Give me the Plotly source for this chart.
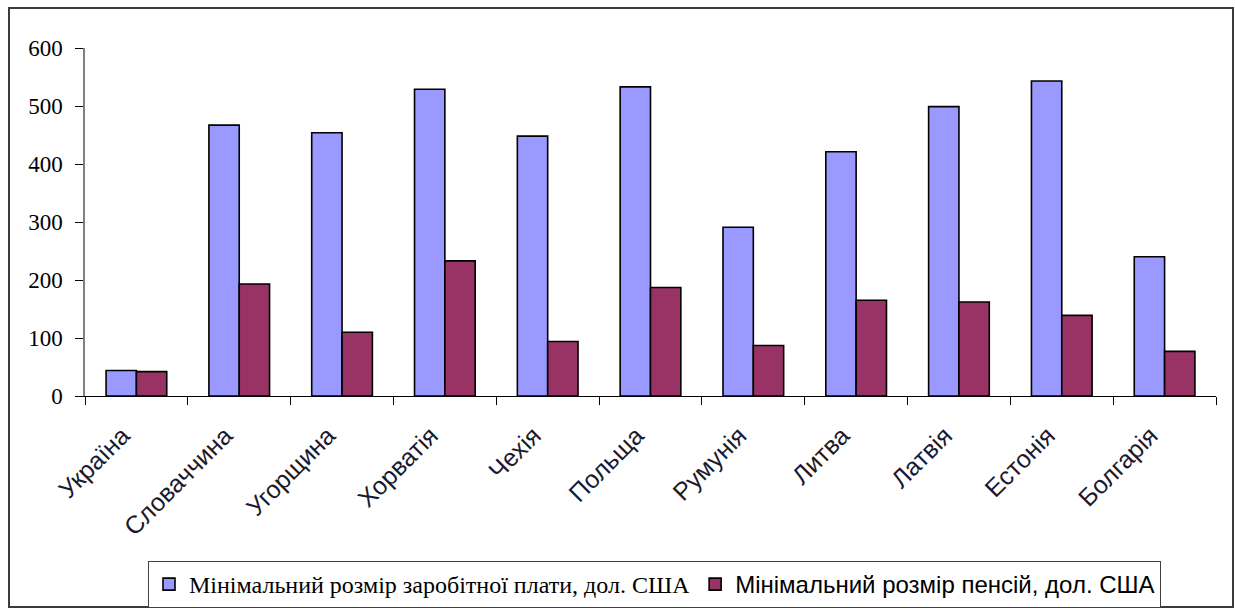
import plotly.graph_objects as go

# Minimum wage and minimum pension by country, USD
countries = ["Україна", "Словаччина", "Угорщина", "Хорватія", "Чехія", "Польща",
             "Румунія", "Литва", "Латвія", "Естонія", "Болгарія"]
min_wage = [44, 467, 454, 529, 448, 533, 291, 421, 499, 543, 240]
min_pension = [42, 193, 110, 233, 94, 187, 87, 165, 162, 139, 77]
y_ticks = [0, 100, 200, 300, 400, 500, 600]

wage_name = "Мінімальний розмір заробітної плати, дол. США"
pension_name = "Мінімальний розмір пенсій, дол. США"

W, H = 1235, 610
ML, MR, MT, MB = 85, 19, 48, 214
PW, PH = W - ML - MR, H - MT - MB


def px_x(px):
    return (px - ML) / PW


def px_y(py):
    return (H - MB - py) / PH


SERIF = "Times New Roman, Liberation Serif, serif"
SANS = "Arial, Liberation Sans, sans-serif"

fig = go.Figure()
fig.add_trace(go.Bar(
    x=countries, y=min_wage, name=wage_name,
    marker=dict(color="#9999FF", line=dict(color="#000000", width=1.6)),
))
fig.add_trace(go.Bar(
    x=countries, y=min_pension,
    name='<span style="font-family:Arial,Liberation Sans">' + pension_name + "</span>",
    marker=dict(color="#993366", line=dict(color="#000000", width=1.6)),
))

# outer chart frame
fig.add_shape(type="rect", xref="paper", yref="paper",
              x0=px_x(9), x1=px_x(1233), y0=px_y(607), y1=px_y(8),
              line=dict(color="#3c3c3c", width=2), fillcolor="rgba(0,0,0,0)",
              layer="below")

fig.update_layout(
    width=W, height=H,
    margin=dict(l=ML, r=MR, t=MT, b=MB, pad=0, autoexpand=False),
    paper_bgcolor="white", plot_bgcolor="white",
    barmode="group", bargap=0.41, bargroupgap=0,
    showlegend=True,
    legend=dict(
        orientation="h", xref="container", yref="container",
        x=148 / W, y=1 - 561 / H,
        xanchor="left", yanchor="top",
        bordercolor="#404040", borderwidth=1, bgcolor="white",
        font=dict(family=SERIF, size=24, color="#000000"),
        itemwidth=30, traceorder="normal",
    ),
    xaxis=dict(
        type="category", showline=True, linecolor="#000000", linewidth=1,
        ticks="outside", tickson="boundaries", ticklen=8, tickcolor="#000000",
        tickangle=-45, tickfont=dict(family=SANS, size=25, color="#1a1a2e"),
        ticklabelstandoff=14, ticklabelshift=-14,
        showgrid=False, zeroline=False, automargin=False,
    ),
    yaxis=dict(
        range=[0, 600], tickmode="array", tickvals=y_ticks,
        ticktext=[str(v) for v in y_ticks],
        showline=True, linecolor="#808080", linewidth=1.5,
        ticks="outside", ticklen=8, tickcolor="#000000",
        tickfont=dict(family=SERIF, size=23, color="#000000"),
        ticklabelstandoff=8,
        showgrid=False, zeroline=False, automargin=False,
    ),
)

fig.write_html("out.html")
